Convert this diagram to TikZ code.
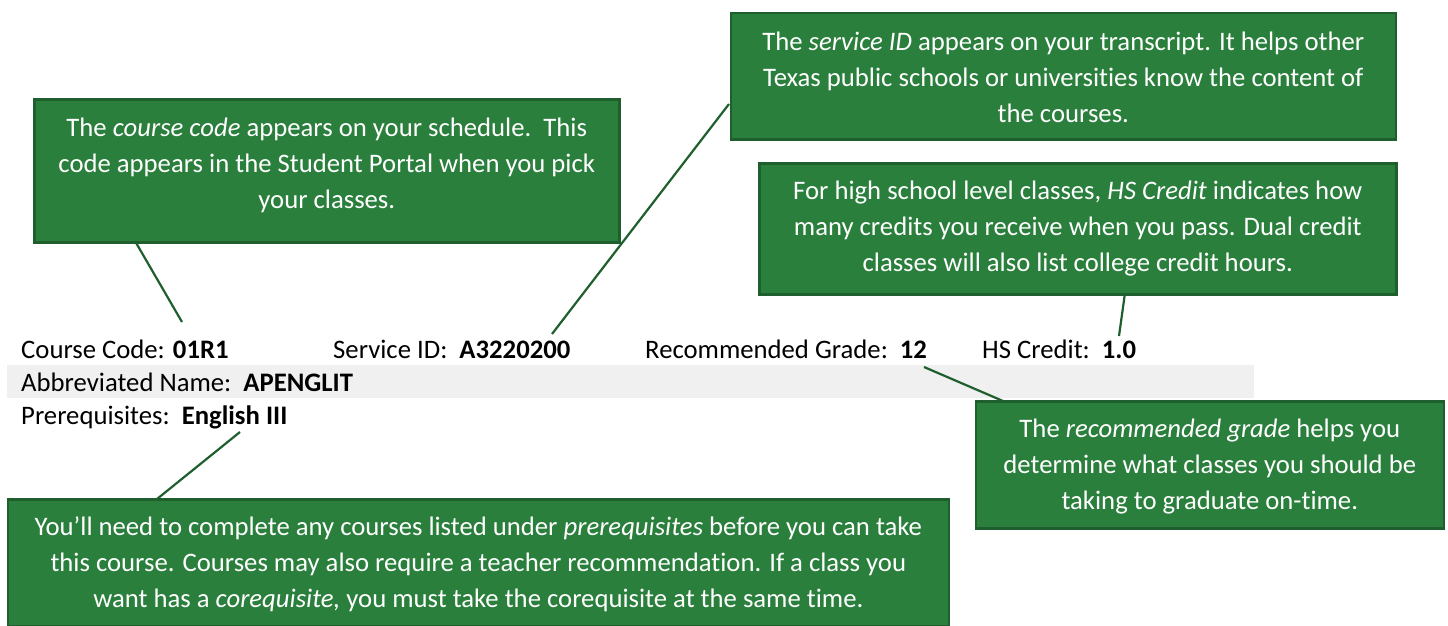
\documentclass[tikz,border=0pt]{standalone}
\usepackage{fontspec}
\setmainfont[Ligatures=NoCommon]{Carlito}
\definecolor{gfill}{HTML}{2A7F3C}
\definecolor{gline}{HTML}{1F5F2E}
\definecolor{band}{HTML}{F0F0F0}
\tikzset{x=1pt,y=-1pt,
 callout/.style={draw=gline,line width=2.6pt,fill=gfill,text=white,align=center,inner sep=0pt,anchor=north west,font=\fontsize{26.7}{36}\selectfont},
 leader/.style={draw=gline,line width=2.2pt},
 lab/.style={anchor=base west,inner sep=0pt,font=\fontsize{26.7}{30}\selectfont}}
\begin{document}
\begin{tikzpicture}
\useasboundingbox (0,0) rectangle (1448,625);
\fill[band] (7,365) rectangle (1254,398);
\node[lab] (cc) at (21,358) {Course Code: \textbf{01R1}};
\node[lab] (sid) at (333,358) {Service ID:\ \ \textbf{A3220200}};
\node[lab] (rg) at (645,358) {Recommended Grade:\ \ \textbf{12}};
\node[lab] (hs) at (982,358) {HS Credit:\ \ \textbf{1.0}};
\node[lab] (ab) at (21,391) {Abbreviated Name:\ \ \textbf{APENGLIT}};
\node[lab] (pr) at (21,424) {Prerequisites:\ \ \textbf{English III}};
\coordinate (a1) at (135,241); \coordinate (a2) at (182,322);
\coordinate (b1) at (729,104); \coordinate (b2) at (552,334);
\coordinate (c1) at (1125,293); \coordinate (c2) at (1119,336);
\coordinate (d1) at (1003,401); \coordinate (d2) at (924,367);
\coordinate (e1) at (157,499); \coordinate (e2) at (240,432);
\draw[leader] (a1)--(a2); \draw[leader] (b1)--(b2); \draw[leader] (c1)--(c2); \draw[leader] (d1)--(d2); \draw[leader] (e1)--(e2);
\node[callout,minimum width=585pt,minimum height=143pt] (ncc) at (33,98) {The \textit{course code} appears on your schedule.\ \ This\\code appears in the Student Portal when you pick\\your classes.\rule[-14.5pt]{0pt}{14.5pt}};
\node[callout,minimum width=665pt,minimum height=126.5pt] (nsid) at (729.5,11.5) {\rule{0pt}{22pt}The \textit{service ID} appears on your transcript. It helps other\\Texas public schools or universities know the content of\\the courses.};
\node[callout,minimum width=637pt,minimum height=131pt] (nhs) at (758,162) {For high school level classes, \textit{HS Credit} indicates how\\many credits you receive when you pass. Dual credit\\classes will also list college credit hours.};
\node[callout,minimum width=468pt,minimum height=127pt] (nrg) at (974.5,400) {\rule{0pt}{22pt}The \textit{recommended grade} helps you\\determine what classes you should be\\taking to graduate on-time.};
\node[callout,minimum width=941pt,minimum height=127pt] (npr) at (6.5,498) {\rule{0pt}{22pt}You’ll need to complete any courses listed under \textit{prerequisites} before you can take\\this course. Courses may also require a teacher recommendation. If a class you\\want has a \textit{corequisite,} you must take the corequisite at the same time.};
\end{tikzpicture}
\end{document}
